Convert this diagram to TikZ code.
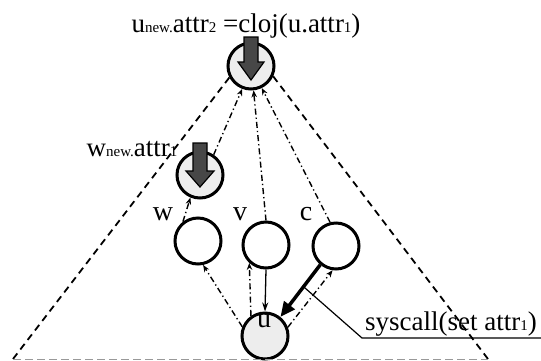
\documentclass[tikz,border=0pt]{standalone}
\usepackage{fontspec}
\setmainfont{Liberation Serif}
\usetikzlibrary{arrows.meta}
\newcommand\sbs[1]{\raisebox{-0.5pt}{\fontsize{15}{15}\selectfont #1}}
\tikzset{
  circ/.style={circle, draw, line width=3pt, minimum size=46pt, inner sep=0pt},
  grayc/.style={circ, fill=black!7},
  lbl/.style={font=\fontsize{27}{27}\selectfont, inner sep=0pt, anchor=base},
  ltr/.style={font=\fontsize{28}{28}\selectfont, inner sep=0pt, anchor=base},
  tri/.style={line width=1.8pt, dash pattern=on 7pt off 5pt},
  dd/.style={line width=1.4pt, dash pattern=on 6pt off 3pt on 1.3pt off 3pt, -{Stealth[length=7pt,width=5.5pt]}},
  thin/.style={line width=1.3pt, -{Stealth[length=9pt,width=6pt]}},
  thick/.style={line width=3.5pt, -{Triangle[length=15pt,width=13pt]}},
  bigarrow/.style={draw=black, line width=1.2pt, fill=black!72, line join=miter},
}
\begin{document}
\begin{tikzpicture}[x=1pt,y=-1pt]
\useasboundingbox (0,0) rectangle (541,360);
% nodes
\node[grayc] (un) at (251,66) {};
\node[grayc] (wn) at (200,175) {};
\node[circ] (w) at (198,241) {};
\node[circ] (v) at (266,245) {};
\node[circ] (c) at (336,246) {};
\node[grayc] (u) at (265,336) {};
% labels
\node[lbl] (tl) at (246,32) {u\sbs{new.}attr\sbs{2} =cloj(u.attr\sbs{1})};
\node[lbl] (wl) at (132,156) {w\sbs{new.}attr\sbs{1}};
\node[ltr] (lw) at (163,220) {w};
\node[ltr] (lv) at (240,220) {v};
\node[ltr] (lc) at (306,220) {c};
\node[ltr] (lu) at (264,327) {u};
\node[lbl] (sl) at (451,330) {syscall(set attr\sbs{1})};
% big arrows
\begin{scope}[shift={(un)}]
\draw[bigarrow] (-7,-29) -- (7,-29) -- (7,-4) -- (13,-4) -- (0,14) -- (-13,-4) -- (-7,-4) -- cycle;
\end{scope}
\begin{scope}[shift={(wn)}]
\draw[bigarrow] (-7,-32) -- (7,-32) -- (7,-4) -- (14,-4) -- (0,12) -- (-14,-4) -- (-7,-4) -- cycle;
\end{scope}
% triangle
\coordinate (bl) at (13,359);
\coordinate (br) at (488,359);
\draw[tri] (un.208) -- (bl);
\draw[tri] (un.-25) -- (br);
\draw[black!40, line width=0.8pt, dash pattern=on 8pt off 4pt] (bl) -- (br);
% dash-dot arrows
\draw[dd] (u.158) -- (w.-78);
\draw[dd] (u.125) -- (v.-133);
\draw[dd] (u.21) -- (c.-98);
\draw[dd] (w.128) -- (wn.-113);
\draw[dd] (wn.56) -- (un.-111);
\draw[dd] (v.90) -- (un.-84);
\draw[dd] (c.104) -- (un.-64);
% solid arrows
\draw[thin] (v.-90) -- (u.90);
\draw[thick] (c.-130) -- (u.51) coordinate[pos=0.42] (sc);
% syscall leader
\coordinate (s1) at (362,338);
\coordinate (s2) at (541,338);
\draw[line width=1.2pt] (sc) -- (s1) -- (s2);
\end{tikzpicture}
\end{document}
